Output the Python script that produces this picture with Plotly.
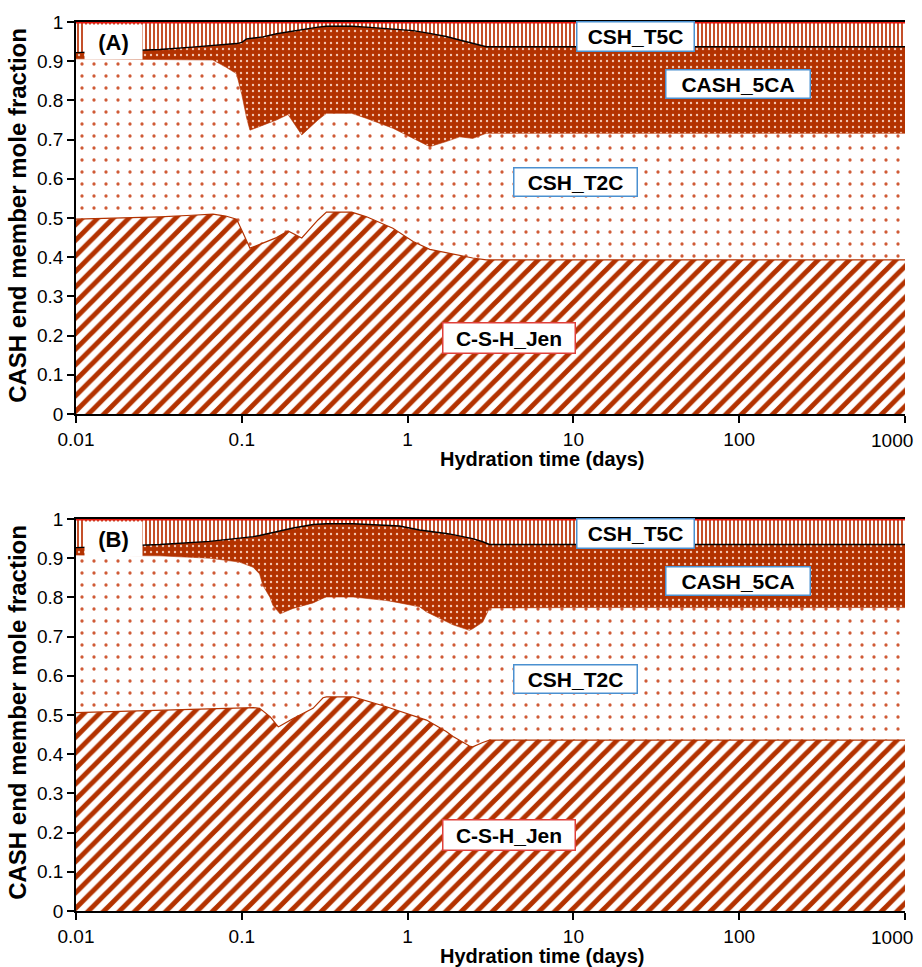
import plotly.graph_objects as go

# ---- Panel (A): hydration time (days) and upper edge of each end-member band
t_A = [0.01, 0.02, 0.032, 0.05, 0.067, 0.08, 0.093, 0.1, 0.107, 0.112,
       0.134, 0.162, 0.19, 0.23, 0.288, 0.324, 0.46, 0.566, 0.815, 1.08,
       1.36, 1.71, 2.06, 2.47, 2.98, 10, 100, 1000]
jen_A = [0.497, 0.500, 0.503, 0.507, 0.510, 0.505, 0.497, 0.469, 0.440, 0.423,
         0.436, 0.450, 0.467, 0.449, 0.495, 0.515, 0.515, 0.503, 0.474, 0.440,
         0.420, 0.411, 0.405, 0.398, 0.393, 0.393, 0.393, 0.393]
t2c_A = [0.906, 0.905, 0.904, 0.903, 0.903, 0.885, 0.868, 0.815, 0.755, 0.724,
         0.737, 0.750, 0.764, 0.712, 0.750, 0.767, 0.767, 0.754, 0.729, 0.703,
         0.682, 0.695, 0.707, 0.703, 0.716, 0.716, 0.716, 0.716]
cash_A = [0.922, 0.926, 0.930, 0.936, 0.940, 0.942, 0.945, 0.948, 0.957, 0.958,
          0.962, 0.970, 0.975, 0.980, 0.987, 0.989, 0.989, 0.987, 0.982, 0.978,
          0.971, 0.963, 0.954, 0.946, 0.937, 0.937, 0.937, 0.937]

# ---- Panel (B)
t_B = [0.01, 0.032, 0.064, 0.097, 0.117, 0.128, 0.134, 0.148, 0.154, 0.166,
       0.17, 0.204, 0.269, 0.309, 0.324, 0.469, 0.745, 0.895, 1.18, 1.30,
       1.71, 1.88, 2.36, 2.47, 2.84, 3.12, 10, 100, 1000]
jen_B = [0.506, 0.513, 0.516, 0.518, 0.519, 0.517, 0.510, 0.496, 0.487, 0.470,
         0.472, 0.491, 0.517, 0.544, 0.546, 0.546, 0.521, 0.510, 0.493, 0.487,
         0.458, 0.445, 0.421, 0.419, 0.430, 0.436, 0.436, 0.436, 0.436]
t2c_B = [0.908, 0.906, 0.900, 0.890, 0.877, 0.860, 0.831, 0.800, 0.780, 0.762,
         0.758, 0.772, 0.786, 0.798, 0.801, 0.801, 0.792, 0.786, 0.776, 0.763,
         0.737, 0.730, 0.716, 0.720, 0.737, 0.773, 0.774, 0.774, 0.774]
cash_B = [0.927, 0.935, 0.943, 0.950, 0.955, 0.958, 0.960, 0.964, 0.966, 0.969,
          0.971, 0.977, 0.986, 0.988, 0.988, 0.988, 0.984, 0.982, 0.972, 0.970,
          0.963, 0.960, 0.951, 0.950, 0.942, 0.935, 0.935, 0.935, 0.935]

members = ["C-S-H_Jen", "CSH_T2C", "CASH_5CA", "CSH_T5C"]
panel_tags = ["(A)", "(B)"]
x_ticks = [0.01, 0.1, 1, 10, 100, 1000]
# the label of the last decade is drawn separately, right-aligned to the page
x_ticktext = ["0.01", "0.1", "1", "10", "100", ""]
last_x_label = "1000"
y_ticks = [i / 10 for i in range(11)]
y_ticktext = ["0", "0.1", "0.2", "0.3", "0.4", "0.5", "0.6", "0.7", "0.8", "0.9", "1"]

BROWN = "#b33200"
FONT = "Liberation Sans, Arial, sans-serif"

styles = [
    dict(fill="tozeroy", line=dict(color=BROWN, width=1.2),
         fillpattern=dict(shape="/", size=11, solidity=0.45, fgcolor=BROWN,
                          bgcolor="white", fillmode="replace")),
    dict(fill="tonexty", line=dict(color=BROWN, width=0.6),
         fillpattern=dict(shape=".", size=12, solidity=0.06, fgcolor="#cf5a36",
                          bgcolor="white", fillmode="replace")),
    dict(fill="tonexty", line=dict(color="black", width=1.4),
         fillpattern=dict(shape=".", size=6, solidity=0.12, fgcolor="#f3c6b2",
                          bgcolor=BROWN, fillmode="replace")),
    dict(fill="tonexty", line=dict(color="#e8140c", width=3),
         fillpattern=dict(shape="|", size=4, solidity=0.5, fgcolor="#c4502a",
                          bgcolor="white", fillmode="replace")),
]

fig = go.Figure()

panels = [(t_A, [jen_A, t2c_A, cash_A, [1.0] * len(t_A)], "x", "y"),
          (t_B, [jen_B, t2c_B, cash_B, [1.0] * len(t_B)], "x2", "y2")]

for t, bands, xa, ya in panels:
    for name, yv, st in zip(members, bands, styles):
        fig.add_trace(go.Scatter(x=t, y=yv, name=name, mode="lines",
                                 xaxis=xa, yaxis=ya, hoverinfo="skip", **st))

TICK_FONT = dict(family=FONT, size=19, color="black")

axis_common = dict(showgrid=False, zeroline=False, showline=True,
                   linecolor="black", linewidth=1.5, ticks="outside",
                   ticklen=7, tickwidth=1.5, tickcolor="black", automargin=False,
                   tickfont=TICK_FONT)

xaxis_common = dict(type="log", range=[-2, 3], tickvals=x_ticks,
                    ticktext=x_ticktext, domain=[0, 1], mirror=True,
                    ticklabelstandoff=0)

fig.update_layout(
    width=922, height=967,
    margin=dict(l=76, r=17, t=22, b=56),
    paper_bgcolor="white", plot_bgcolor="white",
    showlegend=False,
    font=dict(family=FONT, color="black"),
    xaxis=dict(anchor="y", **xaxis_common, **axis_common),
    yaxis=dict(range=[0, 1], tickvals=y_ticks, ticktext=y_ticktext,
               domain=[497 / 889, 1], anchor="x", **axis_common),
    xaxis2=dict(anchor="y2", **xaxis_common, **axis_common),
    yaxis2=dict(range=[0, 1], tickvals=y_ticks, ticktext=y_ticktext,
                domain=[0, 392 / 889], anchor="x2", **axis_common),
)

# Band labels: (text, x-domain centre, y-domain centre, box width, box height, border)
band_labels = [
    ("CSH_T5C", 0.6755, 0.962, 114, 26, "#4a90d0"),
    ("CASH_5CA", 0.799, 0.843, 141, 25, "#4a90d0"),
    ("CSH_T2C", 0.602, 0.593, 120, 25, "#4a90d0"),
    ("C-S-H_Jen", 0.522, 0.193, 129, 27, "#e0403a"),
]

title_y = [-0.116, -0.116]

for (xa, ya), tag, ty in zip([("x", "y"), ("x2", "y2")], panel_tags, title_y):
    xd, yd = xa + " domain", ya + " domain"
    for text, xc, yc, w, h, bc in band_labels:
        fig.add_annotation(text="<b>%s</b>" % text, xref=xd, yref=yd, x=xc, y=yc,
                           xanchor="center", yanchor="middle",
                           showarrow=False, width=w, height=h, bgcolor="white",
                           bordercolor=bc, borderwidth=1.5, borderpad=1,
                           font=dict(family=FONT, size=21, color="black"))
    # panel tag on an opaque white patch
    fig.add_annotation(text="<b>%s</b>" % tag, xref=xd, yref=yd, x=0.045, y=0.949,
                       xanchor="center", yanchor="middle",
                       showarrow=False, width=55, height=32, bgcolor="white",
                       borderpad=1, font=dict(family=FONT, size=22, color="black"))
    # label of the last decade, kept inside the right edge
    fig.add_annotation(text=last_x_label, xref=xd, yref=yd, x=1, y=0,
                       xanchor="right", yanchor="top", xshift=10, yshift=-14,
                       showarrow=False, font=TICK_FONT)
    # axis titles
    fig.add_annotation(text="<b>Hydration time (days)</b>", xref=xd, yref=yd,
                       x=0.562, y=ty, showarrow=False, borderpad=0,
                       xanchor="center", yanchor="middle",
                       font=dict(family=FONT, size=20, color="black"))
    fig.add_annotation(text="<b>CASH end member mole fraction</b>", xref=xd, yref=yd,
                       x=-0.07, y=0.508, showarrow=False, textangle=-90,
                       xanchor="center", yanchor="middle",
                       font=dict(family=FONT, size=24, color="black"))

fig.write_html("out.html")
